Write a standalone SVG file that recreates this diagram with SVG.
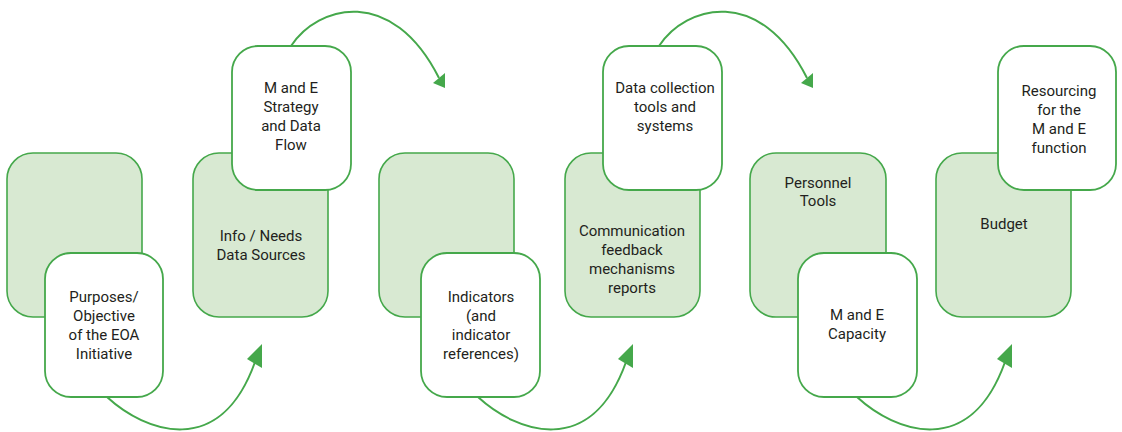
<svg xmlns="http://www.w3.org/2000/svg" xmlns:xlink="http://www.w3.org/1999/xlink" width="1122" height="432" viewBox="0 0 1122 432">
  <style>
    .back { fill: #d8e9d2; stroke: #45a84b; stroke-width: 1.6; }
    .front { fill: #ffffff; stroke: #45a84b; stroke-width: 1.8; }
    .label { font-family: Roboto, "Liberation Sans", sans-serif; font-size: 15px; fill: #231f20; text-anchor: middle; }
    .flow { fill: none; stroke: #45a84b; stroke-width: 2; }
    .head { fill: #45a84b; }
  </style>
  <defs>
    <!-- arrowheads, tip at origin -->
    <polygon id="head-down" class="head" points="0,0 -12,-5 0,-15"/>
    <polygon id="head-up" class="head" points="0,0 -15,15 0,24"/>
    <!-- curved connectors, drawn from their start point -->
    <path id="arc-under" class="flow" d="M0,0 C38,35 113,63 148,-35"/>
    <path id="arc-over" class="flow" d="M0,0 C27,-41 101,-61 148,32"/>
  </defs>

  <!-- connectors -->
  <g id="connectors">
    <use xlink:href="#arc-under" x="107" y="397"/>
    <use xlink:href="#head-up" x="262" y="344"/>
    <use xlink:href="#arc-over" x="291" y="46"/>
    <use xlink:href="#head-down" x="445" y="88"/>
    <use xlink:href="#arc-under" x="478" y="397"/>
    <use xlink:href="#head-up" x="633" y="344"/>
    <use xlink:href="#arc-over" x="659" y="46"/>
    <use xlink:href="#head-down" x="813" y="88"/>
    <use xlink:href="#arc-under" x="857" y="397"/>
    <use xlink:href="#head-up" x="1012" y="344"/>
  </g>

  <!-- column 1 -->
  <g id="col1-back">
    <rect class="back" x="7" y="153" width="135" height="164" rx="26"/>
  </g>
  <g id="purposes">
    <rect class="front" x="45" y="253" width="118" height="144" rx="26"/>
    <text class="label" x="104" y="302">Purposes/</text>
    <text class="label" x="104" y="321">Objective</text>
    <text class="label" x="104" y="340">of the EOA</text>
    <text class="label" x="104" y="359">Initiative</text>
  </g>

  <!-- column 2 -->
  <g id="info-needs">
    <rect class="back" x="193" y="153" width="135" height="164" rx="26"/>
    <text class="label" x="261" y="241">Info / Needs</text>
    <text class="label" x="261" y="260">Data Sources</text>
  </g>
  <g id="strategy">
    <rect class="front" x="232" y="46" width="119" height="144" rx="26"/>
    <text class="label" x="291" y="93">M and E</text>
    <text class="label" x="291" y="112">Strategy</text>
    <text class="label" x="291" y="131">and Data</text>
    <text class="label" x="291" y="150">Flow</text>
  </g>

  <!-- column 3 -->
  <g id="col3-back">
    <rect class="back" x="379" y="153" width="135" height="164" rx="26"/>
  </g>
  <g id="indicators">
    <rect class="front" x="421" y="253" width="119" height="144" rx="26"/>
    <text class="label" x="481" y="302">Indicators</text>
    <text class="label" x="481" y="321">(and</text>
    <text class="label" x="481" y="340">indicator</text>
    <text class="label" x="481" y="359">references)</text>
  </g>

  <!-- column 4 -->
  <g id="communication">
    <rect class="back" x="565" y="153" width="135" height="164" rx="26"/>
    <text class="label" x="632" y="236">Communication</text>
    <text class="label" x="632" y="255">feedback</text>
    <text class="label" x="632" y="274">mechanisms</text>
    <text class="label" x="632" y="293">reports</text>
  </g>
  <g id="data-collection">
    <rect class="front" x="603" y="46" width="119" height="144" rx="26"/>
    <text class="label" x="665" y="93">Data collection</text>
    <text class="label" x="665" y="112">tools and</text>
    <text class="label" x="665" y="131">systems</text>
  </g>

  <!-- column 5 -->
  <g id="personnel-tools">
    <rect class="back" x="750" y="153" width="136" height="164" rx="26"/>
    <text class="label" x="818" y="188">Personnel</text>
    <text class="label" x="818" y="206">Tools</text>
  </g>
  <g id="capacity">
    <rect class="front" x="798" y="253" width="119" height="144" rx="26"/>
    <text class="label" x="857" y="320">M and E</text>
    <text class="label" x="857" y="339">Capacity</text>
  </g>

  <!-- column 6 -->
  <g id="budget">
    <rect class="back" x="936" y="153" width="135" height="164" rx="26"/>
    <text class="label" x="1004" y="229">Budget</text>
  </g>
  <g id="resourcing">
    <rect class="front" x="998" y="46" width="118" height="144" rx="26"/>
    <text class="label" x="1059" y="96">Resourcing</text>
    <text class="label" x="1059" y="115">for the</text>
    <text class="label" x="1059" y="134">M and E</text>
    <text class="label" x="1059" y="153">function</text>
  </g>
</svg>
